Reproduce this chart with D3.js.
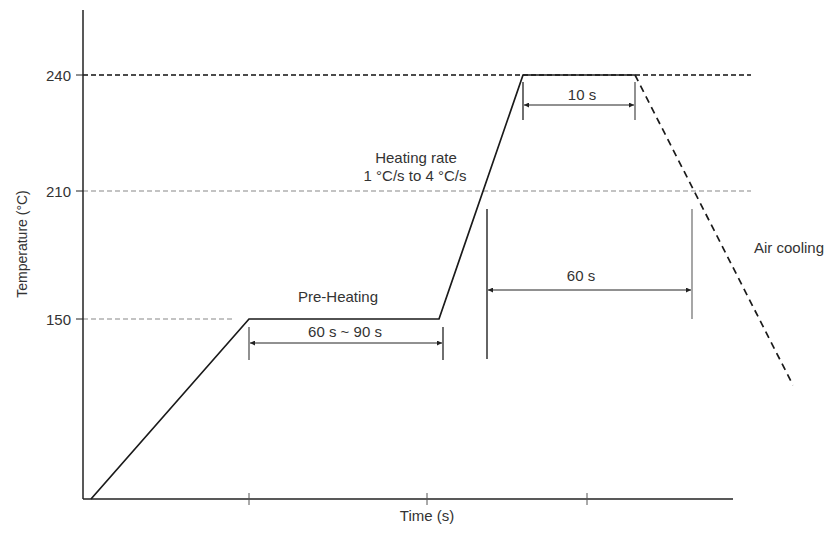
<!DOCTYPE html>
<html>
<head>
<meta charset="utf-8">
<script src="https://cdn.jsdelivr.net/npm/d3@7"></script>
<style>
  html, body { margin: 0; padding: 0; background: #fff; }
  svg { display: block; }
  text { font-family: "Liberation Sans", Arial, sans-serif; fill: #333; }
</style>
</head>
<body>
<svg id="chart" width="831" height="533"></svg>
<script>
// ---- data (schematic reflow profile) ----
const tempTicks = [150, 210, 240];
const tempTickLabels = ["150", "210", "240"];
const timeTicks = [83, 172, 252];
const profileTime = [4, 83, 178, 220, 276];
const profileTemp = [25, 150, 150, 240, 240];
const coolingTime = [276, 355];
const coolingTemp = [240, 104];
const preheatSpan = [83, 180];
const peakSpan = [220, 276];
const liquidusSpan = [202, 304.5];
const gridEnd = 334;

// ---- scales ----
const svg = d3.select("#chart");
const x = d3.scaleLinear().domain([0, 325]).range([83, 733]);
const y = d3.scaleLinear().domain([25, 150, 210, 240, 257]).range([499, 319, 191, 75, 10]);

// markers
const defs = svg.append("defs");
defs.append("marker").attr("id", "arr").attr("viewBox", "0 0 10 10")
  .attr("refX", 10).attr("refY", 5).attr("markerWidth", 8).attr("markerHeight", 5)
  .attr("markerUnits", "userSpaceOnUse").attr("orient", "auto-start-reverse")
  .append("path").attr("d", "M0,0 L10,5 L0,10 Z").attr("fill", "#222");

// gridlines
const gridStyle = {150: {end: 83, col: "#888", w: 1.1}, 210: {end: gridEnd, col: "#888", w: 1.1}, 240: {end: gridEnd, col: "#111", w: 1.4}};
svg.append("g").selectAll("line").data(tempTicks).join("line")
  .attr("x1", x(0)).attr("x2", d => x(gridStyle[d].end) - (d === 150 ? 15 : 0))
  .attr("y1", d => y(d)).attr("y2", d => y(d))
  .attr("stroke", d => gridStyle[d].col).attr("stroke-width", d => gridStyle[d].w)
  .attr("stroke-dasharray", "5,3");

// axes
svg.append("line").attr("x1", x(0)).attr("x2", x(0)).attr("y1", y(257)).attr("y2", y(25))
  .attr("stroke", "#222").attr("stroke-width", 1.5);
svg.append("line").attr("x1", x(0)).attr("x2", x(325)).attr("y1", y(25)).attr("y2", y(25))
  .attr("stroke", "#222").attr("stroke-width", 1.5);

// y ticks & labels
svg.append("g").selectAll("line").data(tempTicks).join("line")
  .attr("x1", x(0) - 7).attr("x2", x(0)).attr("y1", d => y(d)).attr("y2", d => y(d))
  .attr("stroke", "#222").attr("stroke-width", 1);
svg.append("g").selectAll("text").data(tempTicks).join("text")
  .attr("x", x(0) - 12).attr("y", d => y(d) + 5.5).attr("text-anchor", "end")
  .attr("font-size", 15).attr("fill", "#444")
  .text((d, i) => tempTickLabels[i]);

// x ticks
svg.append("g").selectAll("line").data(timeTicks).join("line")
  .attr("x1", d => x(d)).attr("x2", d => x(d)).attr("y1", y(25) - 6).attr("y2", y(25) + 6)
  .attr("stroke", "#555").attr("stroke-width", 1);

// axis titles
svg.append("text").attr("x", x(172)).attr("y", 521).attr("text-anchor", "middle")
  .attr("font-size", 15).text("Time (s)");
svg.append("text").attr("transform", "translate(27,244) rotate(-90)").attr("text-anchor", "middle")
  .attr("font-size", 14).text("Temperature (°C)");

// profile
const line = d3.line().x(d => x(d[0])).y(d => y(d[1]));
svg.append("path").datum(profileTime.map((t, i) => [t, profileTemp[i]]))
  .attr("d", line).attr("fill", "none").attr("stroke", "#1a1a1a").attr("stroke-width", 1.7)
  .attr("stroke-linejoin", "miter");
svg.append("path").datum(coolingTime.map((t, i) => [t, coolingTemp[i]]))
  .attr("d", line).attr("fill", "none").attr("stroke", "#1a1a1a").attr("stroke-width", 1.7)
  .attr("stroke-dasharray", "7,5");

// dimension helper
function dim(span, yArrow, yTop, yBotL, yBotR, colL, colR) {
  const g = svg.append("g");
  g.append("line").attr("x1", x(span[0])).attr("x2", x(span[0])).attr("y1", yTop).attr("y2", yBotL)
    .attr("stroke", colL).attr("stroke-width", 1.3);
  g.append("line").attr("x1", x(span[1])).attr("x2", x(span[1])).attr("y1", yTop).attr("y2", yBotR)
    .attr("stroke", colR).attr("stroke-width", 1.3);
  g.append("line").attr("x1", x(span[0]) + 1).attr("x2", x(span[1]) - 1).attr("y1", yArrow).attr("y2", yArrow)
    .attr("stroke", "#222").attr("stroke-width", 1)
    .attr("marker-start", "url(#arr)").attr("marker-end", "url(#arr)");
}
dim(preheatSpan, y(150) + 24, y(150) + 8, y(150) + 41, y(150) + 41, "#555", "#222");
dim(peakSpan, y(240) + 30, y(240) + 7, y(240) + 45, y(240) + 45, "#222", "#555");
dim(liquidusSpan, y(210) + 99, y(210) + 18, y(210) + 168, y(210) + 128, "#111", "#777");

// annotations
const ann = [
  {t: "Pre-Heating", x: x(127.5), y: 302, a: "middle"},
  {t: "60 s ~ 90 s", x: x(131), y: 337, a: "middle"},
  {t: "10 s", x: x(249.5), y: 100, a: "middle"},
  {t: "60 s", x: x(249), y: 281, a: "middle"},
  {t: "Heating rate", x: x(166.5), y: 163, a: "middle"},
  {t: "1 °C/s to 4 °C/s", x: x(166), y: 181, a: "middle"},
  {t: "Air cooling", x: 754, y: 253, a: "start"}
];
svg.append("g").selectAll("text").data(ann).join("text")
  .attr("x", d => d.x).attr("y", d => d.y).attr("text-anchor", d => d.a)
  .attr("font-size", 15).text(d => d.t);
</script>
</body>
</html>
